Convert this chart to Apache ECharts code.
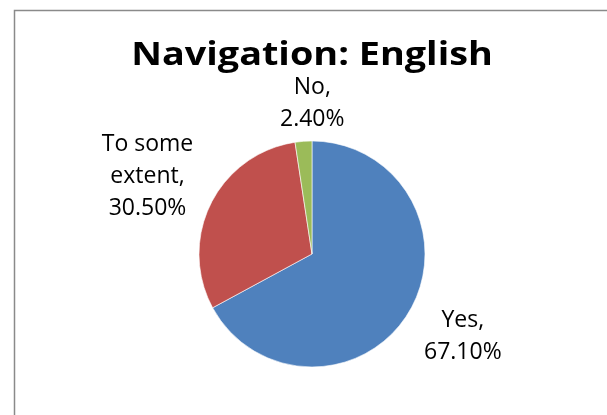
<!DOCTYPE html>
<html><head><meta charset="utf-8">
<script src="https://cdn.jsdelivr.net/npm/echarts@6/dist/echarts.min.js"></script>
<style>html,body{margin:0;padding:0;background:#fff}#c{width:607px;height:415px}</style>
</head><body><div id="c"></div>
<script>
const titleText = 'Navigation: English';
const categories = ['Yes', 'To some extent', 'No'];
const labelLines = [['Yes,'], ['To some', 'extent,'], ['No,']];
const values = [67.10, 30.50, 2.40];
const colors = ['#4F81BD', '#C0504D', '#9BBB59'];

// label nudges (layout only)
const labelNudge = [[-5, 16], [-4, -20], [55, -22]];

const chart = echarts.init(document.getElementById('c'), null, {renderer: 'canvas'});
chart.setOption({
  backgroundColor: '#fff',
  animation: false,
  graphic: [{
    type: 'rect', left: 12, top: 8,
    shape: {width: 700, height: 500},
    style: {fill: 'none', stroke: '#8a8a8a', lineWidth: 1.5}
  }, {
    type: 'text', x: 312, y: 56, scaleX: 1.2, scaleY: 1.03,
    style: {text: titleText, fontFamily: 'Open Sans', fontWeight: 'bold', fontSize: 31.5,
            fill: '#000', align: 'center', verticalAlign: 'middle'}
  }],
  series: [{
    type: 'pie',
    center: ['51.4%', '61.2%'],
    radius: 113,
    startAngle: 90,
    clockwise: true,
    avoidLabelOverlap: false,
    data: categories.map((c, i) => ({name: c, value: values[i], itemStyle: {color: colors[i]}})),
    label: {
      show: true, position: 'outside', alignTo: 'none', distanceToLabelLine: 0,
      formatter: p => labelLines[p.dataIndex].concat([p.value.toFixed(2) + '%']).map(s => '{c|' + s + '}').join('\n'),
      rich: {c: {fontFamily: 'Open Sans', fontSize: 23, color: '#000', lineHeight: 32, width: 90, align: 'center'}}
    },
    labelLine: {show: false, length: 16, length2: 0},
    labelLayout: p => ({dx: labelNudge[p.dataIndex][0], dy: labelNudge[p.dataIndex][1]}),
    itemStyle: {borderWidth: 0.6, borderColor: '#fff'}
  }]
});
</script></body></html>
